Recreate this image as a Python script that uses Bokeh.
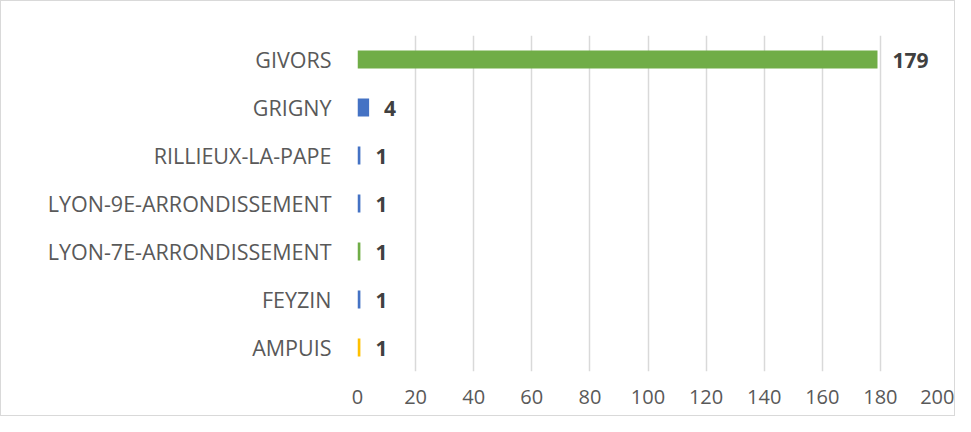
from bokeh.plotting import figure
from bokeh.models import ColumnDataSource, FactorRange, Range1d, FixedTicker, LabelSet
from bokeh.core.properties import value
from bokeh.embed import file_html
from bokeh.resources import INLINE

communes = ["AMPUIS", "FEYZIN", "LYON-7E-ARRONDISSEMENT", "LYON-9E-ARRONDISSEMENT",
            "RILLIEUX-LA-PAPE", "GRIGNY", "GIVORS"]
values = [1, 1, 1, 1, 1, 4, 179]
colors = ["#FFC000", "#4472C4", "#70AD47", "#4472C4", "#4472C4", "#4472C4", "#70AD47"]
x_ticks = [0, 20, 40, 60, 80, 100, 120, 140, 160, 180, 200]

src = ColumnDataSource(dict(c=communes, v=values, col=colors, lab=[str(v) for v in values]))

p = figure(width=955, height=416, output_backend="svg", toolbar_location=None,
           y_range=FactorRange(*communes), x_range=Range1d(0, 200),
           min_border_left=356, min_border_right=18, min_border_top=34, min_border_bottom=46)
p.hbar(y="c", right="v", left=0, height=0.37, fill_color="col", line_color=None, source=src)

labels = LabelSet(x="v", y="c", text="lab", source=src, x_offset=15, y_offset=-1,
                  text_align="left", text_baseline="middle", text_font=value("Open Sans"),
                  text_font_size="21px", text_font_style="bold", text_color="#404040")
p.add_layout(labels)

p.xaxis.ticker = FixedTicker(ticks=x_ticks)
p.xaxis.axis_line_color = None
p.xaxis.major_tick_line_color = None
p.xaxis.minor_tick_line_color = None
p.xaxis.major_label_standoff = 12
p.xaxis.major_label_text_font = "Open Sans"
p.xaxis.major_label_text_font_size = "20px"
p.xaxis.major_label_text_color = "#595959"

p.yaxis.axis_line_color = None
p.yaxis.major_tick_line_color = None
p.yaxis.minor_tick_line_color = None
p.yaxis.major_label_standoff = 20
p.yaxis.major_label_text_font = "Open Sans"
p.yaxis.major_label_text_font_size = "21.5px"
p.yaxis.major_label_text_color = "#595959"

p.ygrid.grid_line_color = None
p.xgrid.grid_line_color = "#d9d9d9"
p.xgrid.grid_line_width = 1.5
p.outline_line_color = None
p.background_fill_color = "white"
p.border_fill_color = "white"
p.styles = {"border": "1px solid #d9d9d9"}

open("out.html", "w").write(file_html(p, INLINE))
